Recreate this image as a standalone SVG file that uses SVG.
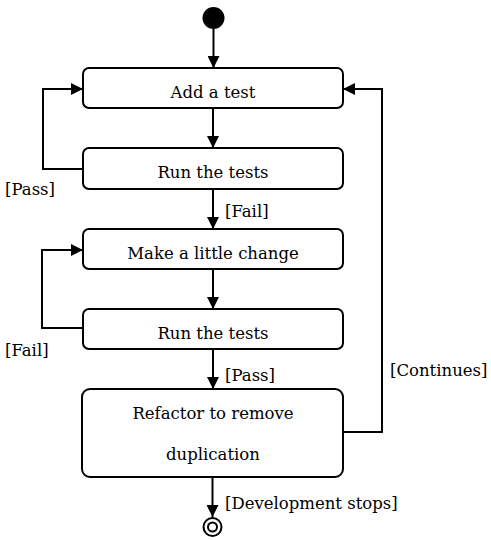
<svg xmlns="http://www.w3.org/2000/svg" width="491" height="540" viewBox="0 0 491 540">
<defs>
<marker id="arr" viewBox="0 0 12 12" refX="12" refY="6" markerWidth="12" markerHeight="12" markerUnits="userSpaceOnUse" orient="auto">
<path d="M0,0 L12,6 L0,12 Z" fill="#000"/>
</marker>
<style>
.box{fill:#fff;stroke:#000;stroke-width:2}
.t{font-family:"DejaVu Serif","Liberation Serif",serif;font-size:16.5px;fill:#000}
.c{text-anchor:middle}
.ln{fill:none;stroke:#000;stroke-width:2;marker-end:url(#arr)}
</style>
</defs>
<rect width="491" height="540" fill="#fff"/>
<g id="start"><circle cx="213.5" cy="18" r="11" fill="#000"/></g>
<g id="add-test"><rect class="box" x="83" y="68" width="260" height="40" rx="6"/><text class="t c" x="213" y="97.5">Add a test</text></g>
<g id="run-tests-1"><rect class="box" x="83" y="148" width="260" height="41" rx="6"/><text class="t c" x="213" y="178">Run the tests</text></g>
<g id="make-change"><rect class="box" x="83" y="229" width="260" height="40" rx="6"/><text class="t c" x="213" y="259">Make a little change</text></g>
<g id="run-tests-2"><rect class="box" x="83" y="309" width="260" height="40" rx="6"/><text class="t c" x="213" y="339">Run the tests</text></g>
<g id="refactor"><rect class="box" x="82" y="389" width="261" height="88" rx="8"/><text class="t c" x="213" y="419">Refactor to remove</text><text class="t c" x="213" y="460">duplication</text></g>
<g id="end"><circle cx="212.5" cy="527" r="9" fill="#fff" stroke="#000" stroke-width="2"/><circle cx="212.5" cy="527" r="4.5" fill="#fff" stroke="#000" stroke-width="2"/></g>
<g id="connectors">
<path class="ln" d="M213.5,29 V68"/>
<path class="ln" d="M213,108 V148"/>
<path class="ln" d="M213,189 V229"/>
<path class="ln" d="M213,269 V309"/>
<path class="ln" d="M213,349 V389"/>
<path class="ln" d="M212.5,477 V517"/>
<path class="ln" d="M83,169 H43 V89 H83"/>
<path class="ln" d="M83,328 H42 V250 H83"/>
<path class="ln" d="M343,432 H382 V89 H343"/>
</g>
<g id="labels">
<text class="t" x="5" y="195">[Pass]</text>
<text class="t" x="225" y="217">[Fail]</text>
<text class="t" x="5" y="356">[Fail]</text>
<text class="t" x="225" y="381">[Pass]</text>
<text class="t" x="390" y="376">[Continues]</text>
<text class="t" x="225" y="509">[Development stops]</text>
</g>
</svg>
